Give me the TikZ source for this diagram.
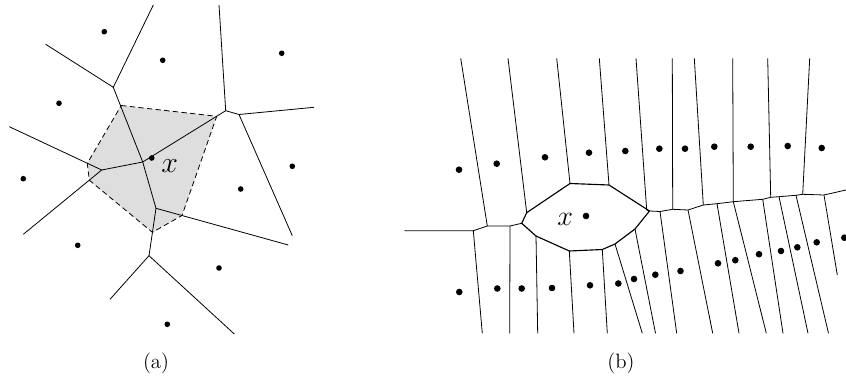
\documentclass[tikz,border=0pt]{standalone}
\usepackage{tikz}
\usetikzlibrary{calc}
\tikzset{
    cellline/.style={
        line width=0.6pt,
        black
    },
    % the boundary of the cell of x in (b)
    cellbold/.style={
        line width=0.85pt,
        black,
        line join=round
    },
    regionfill/.style={
        fill=black!13
    },
    regionedge/.style={
        line width=0.6pt,
        dash pattern=on 4pt off 2.5pt
    }
}

\begin{document}
\begin{tikzpicture}[x=0.75pt,y=-0.75pt]
    \useasboundingbox (0,0) rectangle (846,381);
    % (a)
    \path
    (113.3,87.3) coordinate (a1) (142.7,162) coordinate (a2) (101.7,170) coordinate (a3)
    (225.7,110.7) coordinate (a4) (239,114.5) coordinate (a5) (156,208.3) coordinate (a6)
    (149,255.7) coordinate (a7)
    (153.3,5) coordinate (e1) (45.7,44.3) coordinate (e2) (9.3,126.7) coordinate (e3)
    (23.3,234.3) coordinate (e4) (219,5) coordinate (e5) (314,107.3) coordinate (e6)
    (292.3,235.7) coordinate (e7) (288.3,245) coordinate (e8) (110,299.3) coordinate (e9)
    (234.3,334) coordinate (e10)
    (121.2,105.5) coordinate (c1) (216.7,116.3) coordinate (c2) (182,215.5) coordinate (c3)
    (152.4,232.3) coordinate (c4) (89.3,180.2) coordinate (c5) (87.3,163.3) coordinate (c6);
    \fill[regionfill] (c1) -- (c2) -- (c3) -- (c4) -- (c5) -- (c6) -- cycle;
    \draw[regionedge] (c1) -- (c2) -- (c3) -- (c4) -- (c5) -- (c6) -- cycle;
    \draw[cellline] (e1) -- (a1) -- (a2) -- (a3) -- (e3);
    \draw[cellline] (e2) -- (a1);
    \draw[cellline] (a3) -- (e4);
    \draw[cellline] (a2) -- (a4) -- (e5);
    \draw[cellline] (a4) -- (a5) -- (e6);
    \draw[cellline] (a5) -- (e7);
    \draw[cellline] (a2) -- (a6) -- (e8);
    \draw[cellline] (a6) -- (a7) -- (e9);
    \draw[cellline] (a7) -- (e10);
    \fill
    (104.3,31.7) circle (2.8) (162.7,60.3) circle (2.8) (281.7,53.3) circle (2.8)
    (59,103.3) circle (2.8) (151.7,158) circle (2.8) (292.3,166.3) circle (2.8)
    (23.3,178.7) circle (2.8) (240.7,189) circle (2.8) (77.7,245.3) circle (2.8)
    (219,268) circle (2.8) (167.3,324.3) circle (2.8);
    \node[font=\huge,scale=1.08] (xa) at (169.7,166) {$x$};

    % (b)
    \path
    (404.3,230.7) coordinate (k1) (473.3,230.7) coordinate (k2) (487.3,226) coordinate (k3)
    (510,226) coordinate (k4) (660,211.5) coordinate (k5) (672.7,209.3) coordinate (k6)
    (688,210) coordinate (k7) (703.3,205) coordinate (k8) (717,203.7) coordinate (k9)
    (733.3,201.7) coordinate (k10) (762.7,199.3) coordinate (k11) (770.7,197.3) coordinate (k12)
    (779,196.7) coordinate (k13) (796,195.3) coordinate (k14) (802.7,194.3) coordinate (k15)
    (824,195) coordinate (k16) (846,190) coordinate (k17)
    (521.7,223.3) coordinate (h1) (526.7,212.7) coordinate (h2) (570,183.5) coordinate (h3)
    (609,185) coordinate (h4) (649.5,211) coordinate (h5) (635,229) coordinate (h6)
    (615,244) coordinate (h7) (602.3,249.5) coordinate (h8) (569.3,251) coordinate (h9)
    (536,236) coordinate (h10);
    \draw[cellline] (k1) -- (k2) -- (k3) -- (k4) -- (h1);
    \draw[cellline] (h5) -- (k5) -- (k6) -- (k7) -- (k8) -- (k9) -- (k10) -- (k11)
    -- (k12) -- (k13) -- (k14) -- (k15) -- (k16) -- (k17);
    % upper cells
    \draw[cellline] (460.7,58.3) -- (k3);
    \draw[cellline] (508,58.3) -- (h2);
    \draw[cellline] (556.7,58.3) -- (h3);
    \draw[cellline] (599.3,58.3) -- (h4);
    \draw[cellline] (636,58.3) -- (646.7,210) -- (h5);
    \draw[cellline] (672.3,58.3) -- (k6);
    \draw[cellline] (694.3,58.3) -- (k8);
    \draw[cellline] (732.7,58.3) -- (k10);
    \draw[cellline] (767.7,58.3) -- (k12);
    \draw[cellline] (809.7,58.3) -- (k15);
    % lower cells
    \draw[cellline] (k2) -- (482.3,333.3);
    \draw[cellline] (k4) -- (509.7,333.3);
    \draw[cellline] (h10) -- (537.7,333.3);
    \draw[cellline] (h9) -- (574,333.3);
    \draw[cellline] (h8) -- (607.3,333.3);
    \draw[cellline] (h7) -- (642.3,333.3);
    \draw[cellline] (h6) -- (655.5,333.3);
    \draw[cellline] (k5) -- (676.7,333.3);
    \draw[cellline] (k7) -- (712.7,333.3);
    \draw[cellline] (k9) -- (739,333.3);
    \draw[cellline] (k10) -- (766.3,333.3);
    \draw[cellline] (k11) -- (783,333.3);
    \draw[cellline] (k13) -- (808,333.3);
    \draw[cellline] (k14) -- (828.5,333.3);
    \draw[cellline] (k16) -- (837.3,275);
    \draw[cellbold] (h1) -- (h2) -- (h3) -- (h4) -- (h5) -- (h6) -- (h7) -- (h8)
    -- (h9) -- (h10) -- cycle;
    \fill
    (459,169.7) circle (3.3) (496.7,163.7) circle (3.3) (545,157.3) circle (3.3)
    (589,152.7) circle (3.3) (625.3,151) circle (3.3) (659.3,148.7) circle (3.3)
    (685,148.7) circle (3.3) (714.3,146.7) circle (3.3) (750.7,146.7) circle (3.3)
    (787.7,146) circle (3.3) (821.7,148) circle (3.3)
    (586,216) circle (3.3)
    (459.3,292) circle (3.3) (497.3,288.5) circle (3.3) (521.7,288.5) circle (3.3)
    (552,288) circle (3.3) (590,285.3) circle (3.3) (618.3,283.5) circle (3.3)
    (634,279) circle (3.3) (655.3,274.7) circle (3.3) (680.5,271) circle (3.3)
    (718,263.3) circle (3.3) (735.3,260.2) circle (3.3) (759,254.2) circle (3.3)
    (781,251) circle (3.3) (797.3,247.3) circle (3.3) (816.7,242.3) circle (3.3)
    (844.3,237.7) circle (3.3);
    \node[font=\huge,scale=1.02] (xb) at (565.2,219.5) {$x$};

    \node[font=\Large,scale=1.08] (capa) at (156,363.7) {(a)};
    \node[font=\Large,scale=1.08] (capb) at (621,363.7) {(b)};
\end{tikzpicture}
\end{document}
